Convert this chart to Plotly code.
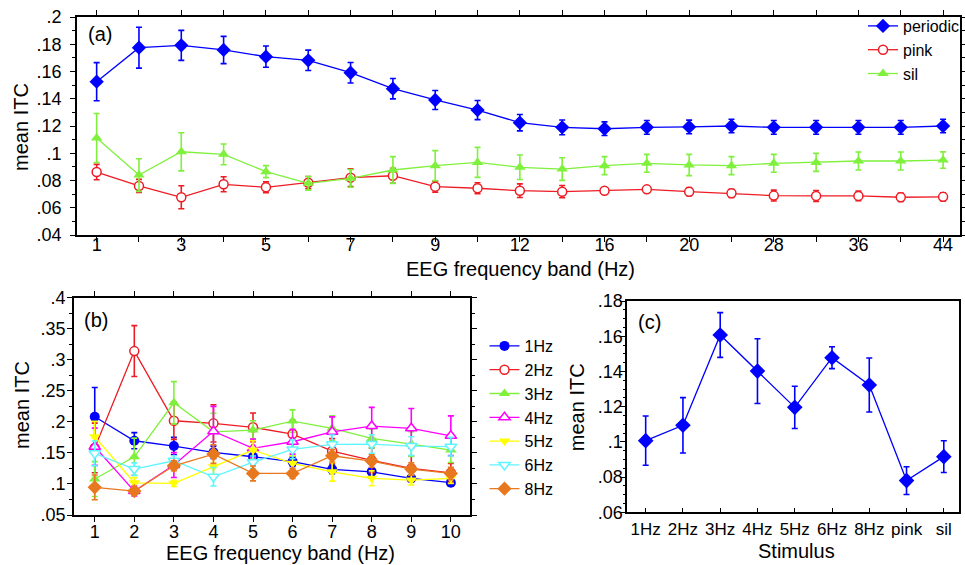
import plotly.graph_objects as go

W, H = 965, 565

# ---------------- Panel (a) data ----------------
freq_a = ["1", "2", "3", "4", "5", "6", "7", "8", "9", "10", "12", "14", "16", "18",
          "20", "24", "28", "32", "36", "40", "44"]
freq_a_ticktext = ["1", "", "3", "", "5", "", "7", "", "9", "", "12", "", "16", "",
                   "20", "", "28", "", "36", "", "44"]
periodic = [.1525, .1775, .1792, .1758, .1709, .1682, .1591, .1474, .1391, .1317, .1224,
            .119, .118, .119, .1193, .120, .119, .119, .119, .119, .120]
periodic_err = [.014, .015, .011, .010, .0078, .0075, .0075, .0075, .007, .007, .006,
                .0054, .005, .005, .005, .005, .005, .005, .005, .005, .005]
pink = [.0862, .076, .0677, .0772, .075, .0784, .0821, .0835, .0755, .0743, .0725,
        .0718, .0725, .0735, .0718, .0706, .0689, .0687, .0687, .0677, .068]
pink_err = [.0056, .0048, .0084, .0055, .004, .0045, .0065, .0055, .004, .004, .005,
            .0045, .002, .002, .003, .003, .004, .004, .0035, .003, .003]
sil = [.1112, .084, .1011, .0992, .0865, .0779, .0816, .0877, .0909, .0933, .0897,
       .0884, .0909, .0926, .0914, .0909, .0926, .0933, .0943, .0943, .095]
sil_err = [.018, .012, .014, .0076, .0044, .005, .0065, .0098, .011, .011, .009,
           .0083, .0066, .0066, .0078, .0066, .0066, .0066, .0066, .0066, .006]
ytick_a = [.04, .06, .08, .1, .12, .14, .16, .18, .2]
ytick_a_text = [".04", ".06", ".08", ".1", ".12", ".14", ".16", ".18", ".2"]

# ---------------- Panel (b) data ----------------
band_b = [1, 2, 3, 4, 5, 6, 7, 8, 9, 10]
hz1 = [.2083, .1696, .161, .1509, .1438, .136, .1235, .1196, .109, .102]
hz1_err = [.047, .013, .014, .01, .01, .008, .007, .006, .005, .005]
hz2 = [.158, .314, .2018, .1976, .1912, .1804, .153, .138, .125, .118]
hz2_err = [.04, .041, .03, .03, .023, .022, .02, .02, .02, .015]
hz3 = [.1079, .1438, .2308, .184, .1868, .2013, .1896, .1734, .1643, .1546]
hz3_err = [.028, .03, .034, .03, .015, .018, .02, .015, .02, .02]
hz4 = [.16, .0885, .1304, .185, .1573, .168, .184, .1933, .1896, .1776]
hz4_err = [.03, .008, .02, .04, .015, .02, .024, .03, .032, .032]
hz5 = [.176, .1019, .101, .1277, .1546, .1332, .1196, .109, .1063, .109]
hz5_err = [.025, .008, .005, .015, .015, .012, .015, .012, .008, .008]
hz6 = [.1493, .124, .1374, .1116, .135, .1557, .1638, .1643, .161, .16]
hz6_err = [.02, .01, .008, .015, .01, .015, .015, .015, .015, .015]
hz8 = [.0945, .0885, .1293, .1481, .117, .117, .1454, .1369, .124, .117]
hz8_err = [.02, .005, .008, .015, .012, .008, .01, .01, .01, .01]
ytick_b = [.05, .1, .15, .2, .25, .3, .35, .4]
ytick_b_text = [".05", ".1", ".15", ".2", ".25", ".3", ".35", ".4"]

# ---------------- Panel (c) data ----------------
stim = ["1Hz", "2Hz", "3Hz", "4Hz", "5Hz", "6Hz", "8Hz", "pink", "sil"]
itc_c = [.1007, .1094, .1607, .1402, .1196, .1478, .1323, .078, .0916]
itc_c_err = [.014, .0157, .0127, .0184, .012, .0062, .0153, .0079, .009]
ytick_c = [.06, .08, .1, .12, .14, .16, .18]
ytick_c_text = [".06", ".08", ".1", ".12", ".14", ".16", ".18"]

FONT = "Liberation Sans, Arial, sans-serif"
BLUE = "#0000ff"
RED = "#ee1c24"
GREEN = "#7ff03c"
MAGENTA = "#ff00ff"
YELLOW = "#ffff00"
CYAN = "#5ff5ff"
ORANGE = "#e8781e"


def px_x(p):
    return p / W


def px_y(p):
    return 1 - p / H


fig = go.Figure()


def add_series(x, y, err, name, color, symbol, size, xa, ya, legend, open_marker=False):
    marker = dict(symbol=symbol, size=size, color="white" if open_marker else color,
                  line=dict(color=color, width=1.5 if open_marker else 0))
    fig.add_trace(go.Scatter(
        x=x, y=y, name=name, mode="lines+markers",
        line=dict(color=color, width=1.3),
        marker=marker,
        error_y=dict(type="data", array=err, visible=True, color=color, thickness=1.6, width=3),
        xaxis=xa, yaxis=ya, legend=legend, showlegend=legend is not None,
    ))


# panel (a)
add_series(freq_a, periodic, periodic_err, "periodic", BLUE, "diamond", 11, "x", "y", "legend")
add_series(freq_a, pink, pink_err, "pink", RED, "circle", 9, "x", "y", "legend", open_marker=True)
add_series(freq_a, sil, sil_err, "sil", GREEN, "triangle-up", 10, "x", "y", "legend")

# panel (b)
add_series(band_b, hz1, hz1_err, "1Hz", BLUE, "circle", 10, "x2", "y2", "legend2")
add_series(band_b, hz2, hz2_err, "2Hz", RED, "circle", 9, "x2", "y2", "legend2", open_marker=True)
add_series(band_b, hz3, hz3_err, "3Hz", GREEN, "triangle-up", 10, "x2", "y2", "legend2")
add_series(band_b, hz4, hz4_err, "4Hz", MAGENTA, "triangle-up", 10, "x2", "y2", "legend2", open_marker=True)
add_series(band_b, hz5, hz5_err, "5Hz", YELLOW, "triangle-down", 10, "x2", "y2", "legend2")
add_series(band_b, hz6, hz6_err, "6Hz", CYAN, "triangle-down", 10, "x2", "y2", "legend2", open_marker=True)
add_series(band_b, hz8, hz8_err, "8Hz", ORANGE, "diamond", 11, "x2", "y2", "legend2")

# panel (c)
add_series(stim, itc_c, itc_c_err, "c", BLUE, "diamond", 12, "x3", "y3", None)


def axis(size=18, **kw):
    d = dict(showline=True, linecolor="black", linewidth=1.5, ticks="outside",
             ticklen=5, tickwidth=1.2, tickcolor="black", showgrid=False, zeroline=False,
             tickfont=dict(family=FONT, size=size, color="black"), automargin=False)
    d.update(kw)
    return d


fig.update_layout(
    width=W, height=H, margin=dict(l=0, r=0, t=0, b=0),
    paper_bgcolor="white", plot_bgcolor="white",
    font=dict(family=FONT, color="black"),
    xaxis=axis(domain=[px_x(77), px_x(963)], anchor="y",
               type="category", range=[-0.47, 20.4], mirror="allticks",
               tickmode="array", tickvals=freq_a, ticktext=freq_a_ticktext,
               ticklabelstandoff=-12),
    yaxis=axis(domain=[px_y(235), px_y(17)], anchor="x",
               range=[.04, .2], mirror="allticks", tickmode="array",
               tickvals=ytick_a, ticktext=ytick_a_text, ticklabelstandoff=5,
               minor=dict(ticks="outside", ticklen=3, dtick=0.01, tickcolor="black")),
    xaxis2=axis(domain=[px_x(74), px_x(471.7)], anchor="y2",
                range=[0.47, 10.49], mirror="allticks", tickmode="array", tickvals=band_b,
                ticklabelstandoff=-5),
    yaxis2=axis(domain=[px_y(515), px_y(297.7)], anchor="x2",
                range=[.05, .4], mirror="allticks", tickmode="array",
                tickvals=ytick_b, ticktext=ytick_b_text, ticklabelstandoff=-2,
                minor=dict(ticks="outside", ticklen=3, dtick=0.025, tickcolor="black")),
    xaxis3=axis(size=17, ticks="inside", domain=[px_x(629), px_x(961.7)], anchor="y3",
                type="category", range=[-0.5, 8.4], mirror=True, ticklabelstandoff=1),
    yaxis3=axis(domain=[px_y(512.3), px_y(301)], anchor="x3",
                range=[.06, .18], mirror=True, tickmode="array",
                tickvals=ytick_c, ticktext=ytick_c_text, ticklabelstandoff=-6,
                minor=dict(ticks="outside", ticklen=2, dtick=0.005, tickcolor="black")),
    legend=dict(x=px_x(866), y=px_y(9), xanchor="left", yanchor="top",
                font=dict(family=FONT, size=16, color="black"), bgcolor="rgba(0,0,0,0)",
                tracegroupgap=0, itemwidth=30),
    legend2=dict(x=px_x(486), y=px_y(329), xanchor="left", yanchor="top",
                 font=dict(family=FONT, size=16, color="black"), bgcolor="rgba(0,0,0,0)",
                 tracegroupgap=0, itemwidth=30),
)

ann = []
title_font = dict(family=FONT, size=20, color="black")
for text, x, y, ang in [
    ("EEG frequency band (Hz)", 522, 269, 0),
    ("mean ITC", 21, 127, -90),
    ("EEG frequency band (Hz)", 281, 553, 0),
    ("mean ITC", 22, 405, -90),
    ("Stimulus", 799, 551, 0),
    ("mean ITC", 579, 407, -90),
]:
    ann.append(dict(text=text, x=px_x(x), y=px_y(y), xref="paper", yref="paper",
                    xanchor="center", yanchor="middle", showarrow=False,
                    textangle=ang, font=title_font))
for text, x, y in [("(a)", 100, 34), ("(b)", 96, 320), ("(c)", 652, 322)]:
    ann.append(dict(text=text, x=px_x(x), y=px_y(y), xref="paper", yref="paper",
                    xanchor="center", yanchor="middle", showarrow=False, font=title_font))
fig.update_layout(annotations=ann)

fig.write_html("out.html", config={"displayModeBar": False},
               post_script="document.body.style.margin='0';document.body.style.overflow='hidden';")
